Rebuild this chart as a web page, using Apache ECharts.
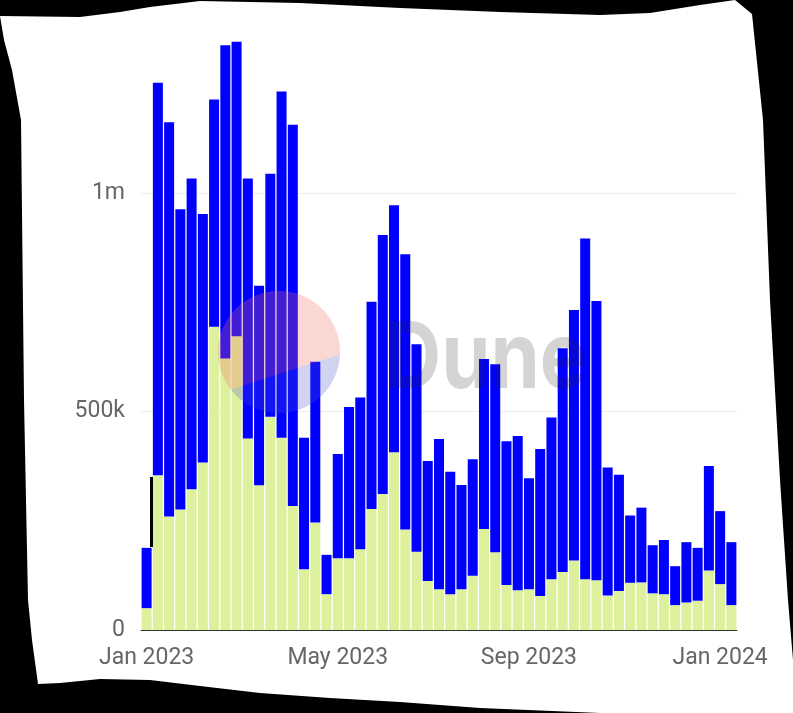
<!DOCTYPE html>
<html>
<head>
<meta charset="utf-8">
<script src="https://cdn.jsdelivr.net/npm/echarts@6/dist/echarts.min.js"></script>
<style>
  html, body { margin: 0; padding: 0; background: #000; }
  #chart { width: 793px; height: 713px; }
</style>
</head>
<body>
<div id="chart"></div>
<script>
// Weekly categories (week start)
const weeks = [
  '2023-01-02','2023-01-09','2023-01-16','2023-01-23','2023-01-30','2023-02-06','2023-02-13','2023-02-20','2023-02-27',
  '2023-03-06','2023-03-13','2023-03-20','2023-03-27','2023-04-03','2023-04-10','2023-04-17','2023-04-24','2023-05-01',
  '2023-05-08','2023-05-15','2023-05-22','2023-05-29','2023-06-05','2023-06-12','2023-06-19','2023-06-26','2023-07-03',
  '2023-07-10','2023-07-17','2023-07-24','2023-07-31','2023-08-07','2023-08-14','2023-08-21','2023-08-28','2023-09-04',
  '2023-09-11','2023-09-18','2023-09-25','2023-10-02','2023-10-09','2023-10-16','2023-10-23','2023-10-30','2023-11-06',
  '2023-11-13','2023-11-20','2023-11-27','2023-12-04','2023-12-11','2023-12-18','2023-12-25','2024-01-01'
];

// Bottom (light green) segment
const greenValues = [
  50000, 354000, 260000, 276000, 322000, 383000, 694000, 621000, 672000,
  438000, 331000, 488000, 440000, 284000, 139000, 246000, 82000, 164000,
  164000, 185000, 277000, 311000, 407000, 230000, 179000, 112000, 93000,
  82000, 93000, 124000, 231000, 178000, 103000, 91000, 93000, 78000,
  116000, 133000, 159000, 116000, 114000, 79000, 89000, 108000, 109000,
  84000, 82000, 57000, 63000, 67000, 136000, 105000, 57000
];

// Top (blue) segment
const blueValues = [
  138000, 898000, 902000, 687000, 711000, 569000, 520000, 717000, 674000,
  595000, 457000, 556000, 792000, 872000, 301000, 368000, 90000, 239000,
  346000, 347000, 474000, 593000, 565000, 630000, 475000, 275000, 344000,
  280000, 239000, 267000, 389000, 430000, 329000, 353000, 254000, 336000,
  370000, 512000, 573000, 780000, 639000, 293000, 266000, 154000, 171000,
  110000, 124000, 89000, 138000, 121000, 239000, 167000, 144000
];

// X tick labels (category index -> label)
const xTickIndex = [0, 17, 34, 51];
const xTickText = ['Jan 2023', 'May 2023', 'Sep 2023', 'Jan 2024'];

// Y tick labels
const yTickValues = [0, 500000, 1000000];
const yTickText = ['0', '500k', '1m'];

const chart = echarts.init(document.getElementById('chart'), null, { renderer: 'canvas' });

// Watermark logo geometry (decoration only)
const cx = 279, cy = 352, r = 61;
function arcPts(a0, a1, n) {
  const pts = [];
  for (let i = 0; i <= n; i++) {
    const a = a0 + (a1 - a0) * i / n;
    pts.push([cx + r * Math.cos(a), cy + r * Math.sin(a)]);
  }
  return pts;
}
const chordRight = 0.04, chordLeft = 2.48;
const upperSeg = arcPts(chordLeft, chordRight + 2 * Math.PI, 90);
const lowerSeg = arcPts(chordRight, chordLeft, 60);

const fontFam = 'Roboto, "Noto Sans", sans-serif';

chart.setOption({
  backgroundColor: '#000',
  animation: false,
  grid: { left: 141, right: 56, top: 0, bottom: 83, containLabel: false },
  xAxis: {
    type: 'category',
    data: weeks,
    boundaryGap: true,
    axisLine: { show: true, lineStyle: { color: '#333', width: 1 } },
    axisTick: { show: false },
    axisLabel: {
      interval: function (idx) { return xTickIndex.indexOf(idx) >= 0; },
      formatter: function (val, idx) { const k = xTickIndex.indexOf(idx); return k >= 0 ? xTickText[k] : ''; },
      color: '#666', fontSize: 23, fontFamily: fontFam, margin: 17
    },
    splitLine: { show: false }
  },
  yAxis: {
    type: 'value',
    min: 0, max: 1441600, interval: 500000,
    axisLine: { show: false },
    axisTick: { show: false },
    axisLabel: {
      showMaxLabel: false,
      formatter: function (v) { const k = yTickValues.indexOf(v); return k >= 0 ? yTickText[k] : ''; },
      color: '#666', fontSize: 23, fontFamily: fontFam, margin: 16
    },
    splitLine: { show: true, showMaxLine: false, showMinLine: false, lineStyle: { color: '#ededed', width: 1 } }
  },
  series: [
    {
      name: 'Green', type: 'bar', stack: 'total', data: greenValues,
      itemStyle: { color: '#ddf09c' }, barCategoryGap: '11%'
    },
    {
      name: 'Blue', type: 'bar', stack: 'total', data: blueValues,
      itemStyle: { color: '#0000ff' }, barCategoryGap: '11%'
    }
  ],
  graphic: [
    {
      type: 'polygon', z: -100, silent: true,
      shape: { points: [
        [0,16],[80,17],[120,12],[150,7],[200,1],[300,3],[400,8],[500,12],[600,15],[650,13],[700,5],[735,0],[752,14],
        [763,120],[770,300],[780,480],[788,600],[793,660],[793,713],[600,713],[480,708],[400,702],[330,698],[260,693],
        [200,686],[150,680],[100,679],[60,683],[38,684],[32,640],[28,600],[24,400],[21,120],[12,70],[4,40]
      ] },
      style: { fill: '#fff' }
    },
    {
      type: 'rect', z: 50, silent: true,
      shape: { x: 150, y: 477, width: 3, height: 70 },
      style: { fill: '#000' }
    },
    {
      type: 'polygon', z: 100, silent: true,
      shape: { points: upperSeg },
      style: { fill: 'rgba(242,107,91,0.27)' }
    },
    {
      type: 'polygon', z: 100, silent: true,
      shape: { points: lowerSeg },
      style: { fill: 'rgba(70,85,200,0.25)' }
    },
    {
      type: 'text', z: 100, silent: true,
      x: 384, y: 314, scaleX: 0.86, scaleY: 1,
      style: { text: 'Dune', fill: 'rgba(40,40,40,0.2)', font: 'bold 92px Inter, sans-serif', verticalAlign: 'top' }
    }
  ]
});
</script>
</body>
</html>
